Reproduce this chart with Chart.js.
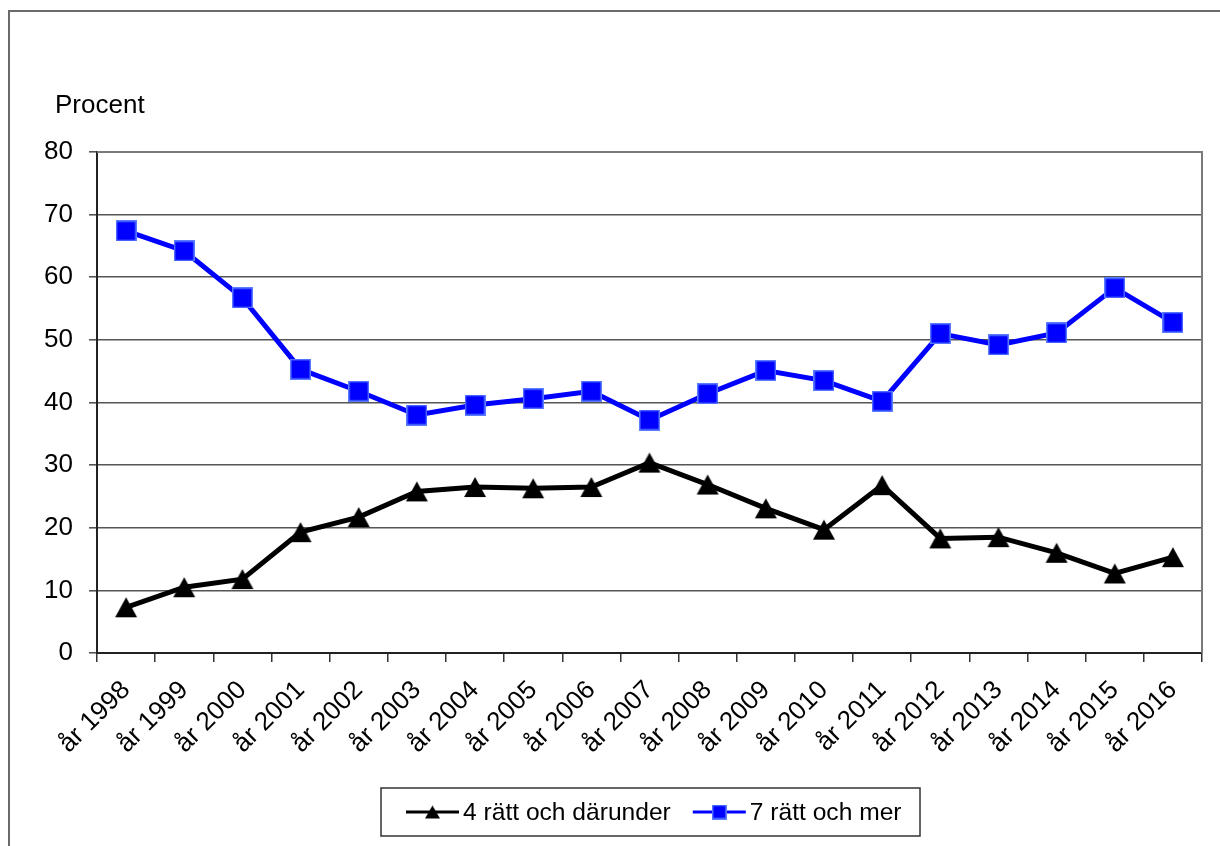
<!DOCTYPE html>
<html>
<head>
<meta charset="utf-8">
<script src="https://cdn.jsdelivr.net/npm/chart.js@4.4.1/dist/chart.umd.min.js"></script>
<style>
  html, body { margin: 0; padding: 0; background: #fff; }
  #wrap { width: 1220px; height: 846px; position: relative; }
</style>
</head>
<body>
<div id="wrap"><canvas id="c" width="1220" height="846"></canvas></div>
<script>
// Andel elever per år (procent)
const years = ['år 1998', 'år 1999', 'år 2000', 'år 2001', 'år 2002', 'år 2003', 'år 2004',
  'år 2005', 'år 2006', 'år 2007', 'år 2008', 'år 2009', 'år 2010', 'år 2011', 'år 2012',
  'år 2013', 'år 2014', 'år 2015', 'år 2016'];
const lowScores = [7.3, 10.5, 11.8, 19.3, 21.7, 25.8, 26.5, 26.3, 26.5, 30.4, 26.9, 23.1,
  19.7, 26.8, 18.3, 18.5, 16.0, 12.7, 15.3];
const highScores = [67.4, 64.2, 56.7, 45.3, 41.8, 38.0, 39.6, 40.6, 41.8, 37.2, 41.4, 45.1,
  43.5, 40.2, 51.0, 49.2, 51.1, 58.3, 52.8];
const seriesNames = ['4 rätt och därunder', '7 rätt och mer'];
const yMin = 0, yMax = 80, yStep = 10;
const axisTitle = 'Procent';

const FONT = "'Liberation Sans', Arial, sans-serif";
const LEGEND_SIZE = 24.6;
const TICK_SIZE = 26;

// Marker images: triangle centred on its bounding box, square with a light edge
function triangleMarker(color, w, h) {
  const c = document.createElement('canvas');
  c.width = w + 2; c.height = h + 2;
  const g = c.getContext('2d');
  g.fillStyle = color;
  g.beginPath();
  g.moveTo(c.width / 2, 1);
  g.lineTo(w + 1, h + 1);
  g.lineTo(1, h + 1);
  g.closePath();
  g.fill();
  return c;
}
function squareMarker(fill, edge, s) {
  const c = document.createElement('canvas');
  c.width = s; c.height = s;
  const g = c.getContext('2d');
  g.fillStyle = edge;
  g.fillRect(0, 0, s, s);
  g.fillStyle = fill;
  g.fillRect(1.5, 1.5, s - 3, s - 3);
  return c;
}
const triBig = triangleMarker('#000000', 22, 20);
const sqBig = squareMarker('#0000ff', '#5a7cff', 21);
const triSmall = triangleMarker('#000000', 15, 13);
const sqSmall = squareMarker('#0000ff', '#5a7cff', 15);

// Outer frame, plot edge, axis caption
const framePlugin = {
  id: 'frame',
  beforeDraw(chart) {
    const ctx = chart.ctx;
    ctx.save();
    ctx.fillStyle = '#fff';
    ctx.fillRect(0, 0, chart.width, chart.height);
    ctx.strokeStyle = '#6a6a6a';
    ctx.lineWidth = 2;
    ctx.beginPath();
    ctx.moveTo(9, chart.height);
    ctx.lineTo(9, 11);
    ctx.lineTo(chart.width, 11);
    ctx.stroke();
    ctx.fillStyle = '#000';
    ctx.font = TICK_SIZE + 'px ' + FONT;
    ctx.textBaseline = 'alphabetic';
    ctx.textAlign = 'left';
    ctx.fillText(axisTitle, 55, 113);
    ctx.restore();
  },
  beforeDatasetsDraw(chart) {
    const a = chart.chartArea, ctx = chart.ctx;
    ctx.save();
    ctx.strokeStyle = '#7a7a7a';
    ctx.lineWidth = 2;
    ctx.beginPath();
    ctx.moveTo(a.left, a.top);
    ctx.lineTo(a.right, a.top);
    ctx.lineTo(a.right, a.bottom);
    ctx.stroke();
    ctx.restore();
  }
};

// Boxed legend with line + marker samples
const legendPlugin = {
  id: 'boxLegend',
  afterDraw(chart) {
    const ctx = chart.ctx;
    const box = { left: 381, top: 788, right: 920, bottom: 836 };
    const cy = (box.top + box.bottom) / 2;
    ctx.save();
    ctx.strokeStyle = '#333';
    ctx.lineWidth = 1.5;
    ctx.strokeRect(box.left, box.top, box.right - box.left, box.bottom - box.top);
    ctx.font = LEGEND_SIZE + 'px ' + FONT;
    ctx.textBaseline = 'middle';
    ctx.textAlign = 'left';
    let x = box.left + 25;
    const lineLen = 53;
    chart.data.datasets.forEach((ds, i) => {
      ctx.strokeStyle = ds.borderColor;
      ctx.lineWidth = 3;
      ctx.beginPath();
      ctx.moveTo(x, cy);
      ctx.lineTo(x + lineLen, cy);
      ctx.stroke();
      const m = i === 0 ? triSmall : sqSmall;
      ctx.drawImage(m, x + lineLen / 2 - m.width / 2, cy - m.height / 2);
      ctx.fillStyle = '#000';
      ctx.fillText(ds.label, x + lineLen + 4, cy + 1);
      x += lineLen + 4 + ctx.measureText(ds.label).width + 22;
    });
    ctx.restore();
  }
};

new Chart(document.getElementById('c'), {
  type: 'line',
  data: {
    labels: years,
    datasets: [
      {
        label: seriesNames[0],
        data: lowScores,
        borderColor: '#000000',
        backgroundColor: '#000000',
        borderWidth: 5,
        pointStyle: triBig,
        pointRadius: 10,
        tension: 0
      },
      {
        label: seriesNames[1],
        data: highScores,
        borderColor: '#0000ff',
        backgroundColor: '#0000ff',
        borderWidth: 5,
        pointStyle: sqBig,
        pointRadius: 10,
        tension: 0
      }
    ]
  },
  options: {
    responsive: false,
    animation: false,
    events: [],
    layout: { padding: { left: 0, top: 152, right: 18, bottom: 0 } },
    plugins: {
      legend: { display: false },
      tooltip: { enabled: false },
      title: { display: false }
    },
    scales: {
      x: {
        offset: true,
        grid: {
          offset: true,
          drawOnChartArea: false,
          drawTicks: true,
          tickLength: 9,
          color: '#333',
          lineWidth: 1.5
        },
        border: { color: '#222', width: 2 },
        ticks: {
          autoSkip: false,
          minRotation: 45,
          maxRotation: 45,
          padding: 13,
          color: '#000',
          font: { family: FONT, size: TICK_SIZE }
        },
        afterFit(scale) { scale.height = 193; }
      },
      y: {
        min: yMin,
        max: yMax,
        grid: {
          color: '#555',
          lineWidth: 1.6,
          tickLength: 8
        },
        border: { color: '#222', width: 2 },
        ticks: {
          stepSize: yStep,
          padding: 16,
          color: '#000',
          font: { family: FONT, size: TICK_SIZE }
        },
        afterFit(scale) { scale.width = 97; }
      }
    }
  },
  plugins: [framePlugin, legendPlugin]
});
</script>
</body>
</html>
